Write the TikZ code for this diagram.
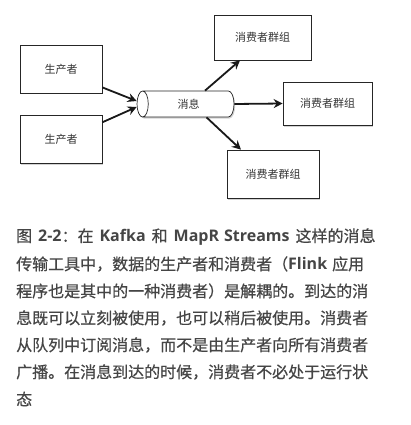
\documentclass[tikz,border=0pt]{standalone}
\usepackage{fontspec}
\setmainfont{Noto Sans CJK SC}
\newfontfamily\capfont{Noto Sans CJK SC}[FakeBold=0.6]
\newfontfamily\latfont{Open Sans}
\newcommand{\lw}[1]{{\latfont\bfseries #1}}
\newcommand{\gapsp}{\hspace{6pt}}
\usetikzlibrary{arrows.meta,shapes.geometric,shadows}
\definecolor{captxt}{HTML}{454545}
\begin{document}
\begin{tikzpicture}[x=1pt,y=-1pt,
  box/.style={draw=black!85, line width=0.7pt, fill=white,
    drop shadow={opacity=0.35, shadow xshift=1.2pt, shadow yshift=-1.5pt},
    font=\fontsize{11}{13}\selectfont, text=black!80, inner sep=0pt},
  flow/.style={line width=1.8pt, draw=black!90,
    -{Stealth[length=9pt,width=9pt,inset=3pt]}},
  capline/.style={anchor=west, inner sep=0pt, text=captxt,
    font=\fontsize{16}{18}\capfont}]
\useasboundingbox (0,0) rectangle (410,425);
\node[box, minimum width=82pt, minimum height=48pt] (p1) at (61,69) {生产者};
\node[box, minimum width=82pt, minimum height=48pt] (p2) at (61,139) {生产者};
\node[box, minimum width=97pt, minimum height=45pt] (c1) at (262.5,37.5) {消费者群组};
\node[box, minimum width=89pt, minimum height=43pt] (c2) at (327.5,103.5) {消费者群组};
\node[box, minimum width=92pt, minimum height=48pt] (c3) at (273,174) {消费者群组};
\node[box, cylinder, shape border rotate=180, aspect=1.1,
  minimum height=97pt, minimum width=26pt] (q) at (188.5,104) {消息};
\draw[flow] (p1.-24) -- ([yshift=3pt]q.west);
\draw[flow] (p2.22) -- ([yshift=-3pt]q.west);
\draw[flow] ([xshift=16.5pt]q.north) -- ([xshift=-22.5pt]c1.south);
\draw[flow] (q.east) -- (c2.west);
\draw[flow] ([xshift=18pt]q.south) -- ([xshift=-32pt]c3.north);
\node[capline] (l1) at (16,237) {图\gapsp\lw{2-2}：在\gapsp\lw{Kafka}\gapsp 和\gapsp\lw{MapR\hspace{5pt}Streams}\gapsp 这样的消息};
\node[capline] (l2) at (16,264) {传输工具中，数据的生产者和消费者（\lw{Flink}\hspace{5pt}应用};
\node[capline] (l3) at (16,291) {程序也是其中的一种消费者）是解耦的。到达的消};
\node[capline] (l4) at (16,318) {息既可以立刻被使用，也可以稍后被使用。消费者};
\node[capline] (l5) at (16,345) {从队列中订阅消息，而不是由生产者向所有消费者};
\node[capline] (l6) at (16,372) {广播。在消息到达的时候，消费者不必处于运行状};
\node[capline] (l7) at (16,399) {态};
\end{tikzpicture}
\end{document}
